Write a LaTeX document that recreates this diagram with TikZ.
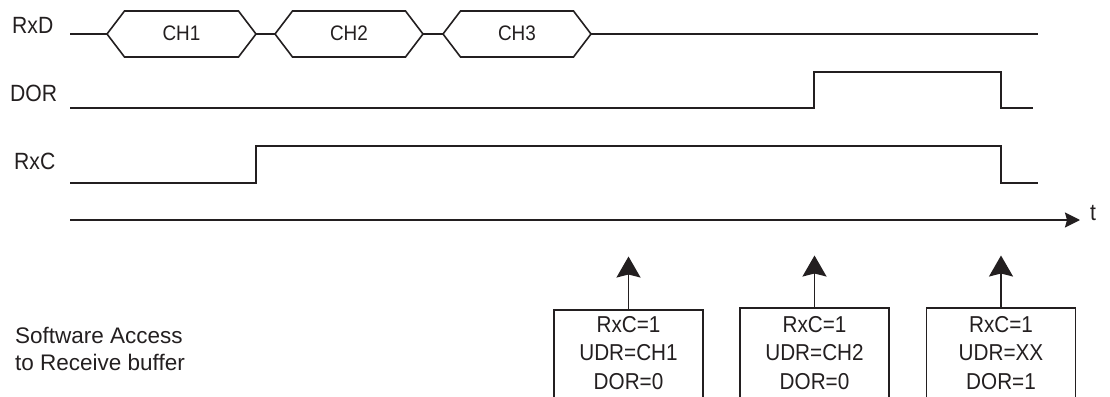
\documentclass[tikz,border=0pt]{standalone}
\usepackage{fontspec}
\setmainfont{Liberation Sans}
\newfontfamily\tightsans{Liberation Sans}[FakeStretch=0.9]
\usetikzlibrary{arrows.meta}
\definecolor{ink}{HTML}{231F20}
\tikzset{
  sig/.style={draw=ink, line width=2pt, line join=miter},
  hexl/.style={draw=ink, line width=1.6pt, line join=miter},
  lbl/.style={inner sep=0pt, anchor=west, text=ink, font=\tightsans\fontsize{23.5}{27}\selectfont},
  chtxt/.style={inner sep=0pt, text=ink, font=\tightsans\fontsize{21}{24}\selectfont},
  regbox/.style={draw=ink, line width=1.6pt, minimum width=149pt, minimum height=100pt, anchor=north, inner sep=0pt},
  regtxt/.style={inner sep=0pt, align=center, text=ink, font=\tightsans\fontsize{23}{28.5}\selectfont},
  uparrow/.style={draw=ink, line width=1.7pt, -{Stealth[length=21pt,width=24pt,inset=3pt]}},
  taxis/.style={draw=ink, line width=2pt, -{Stealth[length=15pt,width=15pt,inset=2pt]}}
}
\begin{document}
\begin{tikzpicture}[x=1pt,y=-1pt]
\useasboundingbox (0,0) rectangle (1110,396);
\clip (0,0) rectangle (1110,396);
\fill[white] (0,0) rectangle (1110,396);

% signal labels
\node[lbl] (lrxd) at (12,25) {RxD};
\node[lbl] (ldor) at (10,93) {DOR};
\node[lbl] (lrxc) at (14,161.5) {RxC};

% RxD bus with hexagons
\draw[hexl] (70,34) -- (107,34);
\draw[hexl] (256,34) -- (275,34);
\draw[hexl] (423,34) -- (443,34);
\draw[hexl] (591,34) -- (1038,34);
\draw[hexl] (107,34) -- (124.5,11) -- (238.5,11) -- (256,34) -- (238.5,57) -- (124.5,57) -- cycle;
\draw[hexl] (275,34) -- (292.5,11) -- (405.5,11) -- (423,34) -- (405.5,57) -- (292.5,57) -- cycle;
\draw[hexl] (443,34) -- (460.5,11) -- (573.5,11) -- (591,34) -- (573.5,57) -- (460.5,57) -- cycle;
\node[chtxt] (ch1) at (181.5,33) {CH1};
\node[chtxt] (ch2) at (349,33) {CH2};
\node[chtxt] (ch3) at (517,33) {CH3};

% DOR
\draw[sig] (70,108) -- (814,108) -- (814,71.5) -- (1001,71.5) -- (1001,108) -- (1033,108);
% RxC
\draw[sig] (70,183) -- (256,183) -- (256,146) -- (1001,146) -- (1001,183) -- (1038,183);

% time axis
\coordinate (ax0) at (70,220);
\coordinate (ax1) at (1080,220);
\draw[taxis] (ax0) -- (ax1);
\node[lbl] (tl) at (1090,213) {t};

% software access text
\node[lbl, align=left, font=\fontsize{22.5}{27}\selectfont] (sw) at (15,348.5) {Software Access\\to Receive buffer};

% register boxes
\node[regbox] (b1) at (628.5,309) {};
\node[regbox] (b2) at (814.5,307) {};
\node[regbox] (b3) at (1001,307) {};
\node[regtxt] (t1) at (628.5,353) {RxC=1\\UDR=CH1\\DOR=0};
\node[regtxt] (t2) at (814.5,353) {RxC=1\\UDR=CH2\\DOR=0};
\node[regtxt] (t3) at (1001,353) {RxC=1\\UDR=XX\\DOR=1};

\coordinate (a1) at (628.5,256.5);
\coordinate (a2) at (814.5,255.5);
\coordinate (a3) at (1001,255.5);
\draw[uparrow] (b1.north) -- (a1);
\draw[uparrow] (b2.north) -- (a2);
\draw[uparrow] (b3.north) -- (a3);
\end{tikzpicture}
\end{document}
